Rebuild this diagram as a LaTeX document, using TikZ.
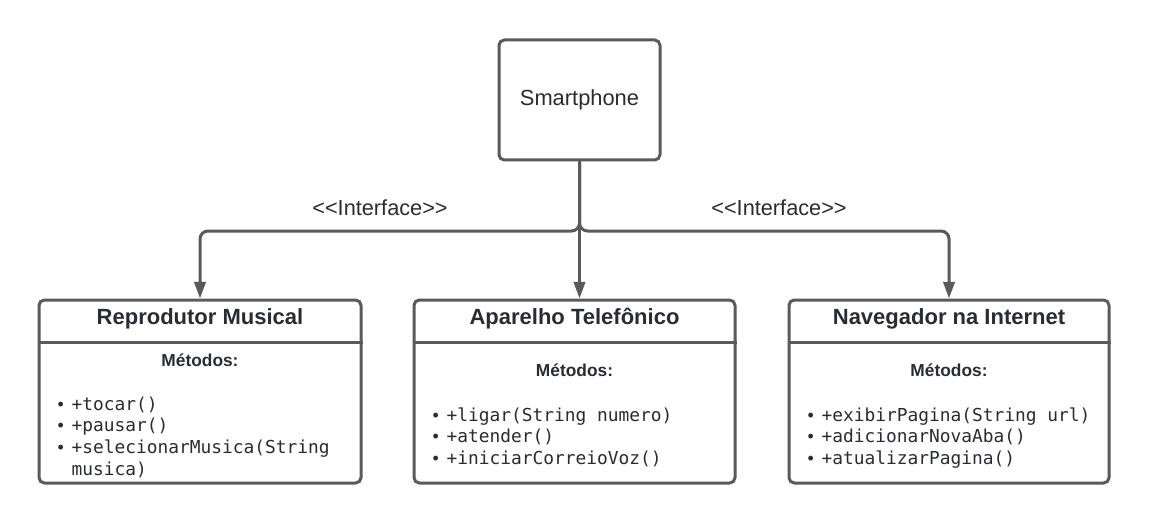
\documentclass[tikz,border=0pt]{standalone}
\usepackage{fontspec}
\setmainfont{Liberation Sans}
\setmonofont{DejaVu Sans Mono}
\usetikzlibrary{arrows.meta}

\definecolor{linegray}{RGB}{90,90,90}
\definecolor{textdark}{RGB}{40,44,51}

\tikzset{every picture/.style={line width=2.25pt}}
\tikzset{
  classbox/.style={draw=linegray, rounded corners=4pt, inner sep=0pt, text=textdark},
  sepline/.style={draw=linegray},
  link/.style={draw=linegray, -{Triangle[length=12.5pt,width=8.5pt]}},
  titletext/.style={inner sep=0.75pt, text=textdark, font=\fontsize{16.5}{19}\selectfont\bfseries},
  methtext/.style={inner sep=0.75pt, text=textdark, font=\fontsize{13}{16}\selectfont\bfseries},
  stereotext/.style={inner sep=0.75pt, text=textdark, font=\fontsize{16.3}{19}\selectfont},
  itemlist/.style={anchor=north west, inner sep=0pt, text=textdark, align=left},
}

\newcommand{\itm}{\makebox[10.5pt][l]{\textbullet}}
\newcommand{\listfont}{\fontsize{13.4}{16.3}\selectfont}

\begin{document}
\begin{tikzpicture}[x=0.75pt,y=0.75pt,yscale=-1,xscale=1]
    \useasboundingbox (0,0) rectangle (1149,524);

    %Shape: Rectangle [Smartphone]
    \node [classbox, minimum width=120.75pt, minimum height=90pt, font=\fontsize{16.4}{19}\selectfont] (smart) at (579.5,100) {Smartphone};
    %Shape: Class boxes
    \node [classbox, minimum width=241.5pt, minimum height=137.25pt] (reprod) at (200,391.5) {};
    \node [classbox, minimum width=240.75pt, minimum height=137.25pt] (aparelho) at (574.5,391.5) {};
    \node [classbox, minimum width=240pt, minimum height=137.25pt] (navegador) at (949,391.5) {};

    %Straight Lines [header separators]
    \draw [sepline] (reprod.west |- 0,342) -- (reprod.east |- 0,342);
    \draw [sepline] (aparelho.west |- 0,342) -- (aparelho.east |- 0,342);
    \draw [sepline] (navegador.west |- 0,342) -- (navegador.east |- 0,342);

    %Connectors
    \coordinate (bus) at (580,231);
    \draw [link] (smart.south) -- (smart.south |- aparelho.north);
    \draw [link, rounded corners=6pt] (smart.south) |- (reprod.north |- bus) -- (reprod.north);
    \draw [link, rounded corners=6pt] (smart.south) |- (navegador.north |- bus) -- (navegador.north);

    % Text Node
    \node [stereotext] (ifaceleft) at (380,208) {<{}<Interface>{}>};
    % Text Node
    \node [stereotext] (ifaceright) at (779,208) {<{}<Interface>{}>};

    % Text Node
    \node [titletext] (reprodtitle) at (200,319) {Reprodutor Musical};
    % Text Node
    \node [titletext] (aparelhotitle) at (574.5,319) {Aparelho Telefônico};
    % Text Node
    \node [titletext] (navegadortitle) at (949,319) {Navegador na Internet};

    % Text Node
    \node [methtext] (reprodmeth) at (200,360) {Métodos:};
    % Text Node
    \node [methtext] (aparelhometh) at (574.5,370) {Métodos:};
    % Text Node
    \node [methtext] (navegadormeth) at (949,370) {Métodos:};

    % Text Node
    \node [itemlist] (reprodlist) at (56,393.5) {\listfont\begin{tabular}{@{}l@{}l@{}}
    \itm & \texttt{+tocar()}\\
    \itm & \texttt{+pausar()}\\
    \itm & \texttt{+selecionarMusica(String}\\
         & \texttt{musica)}
    \end{tabular}};
    % Text Node
    \node [itemlist] (aparelholist) at (431,404.5) {\listfont\begin{tabular}{@{}l@{}l@{}}
    \itm & \texttt{+ligar(String numero)}\\
    \itm & \texttt{+atender()}\\
    \itm & \texttt{+iniciarCorreioVoz()}
    \end{tabular}};
    % Text Node
    \node [itemlist] (navegadorlist) at (806,404.5) {\listfont\begin{tabular}{@{}l@{}l@{}}
    \itm & \texttt{+exibirPagina(String url)}\\
    \itm & \texttt{+adicionarNovaAba()}\\
    \itm & \texttt{+atualizarPagina()}
    \end{tabular}};

\end{tikzpicture}
\end{document}
